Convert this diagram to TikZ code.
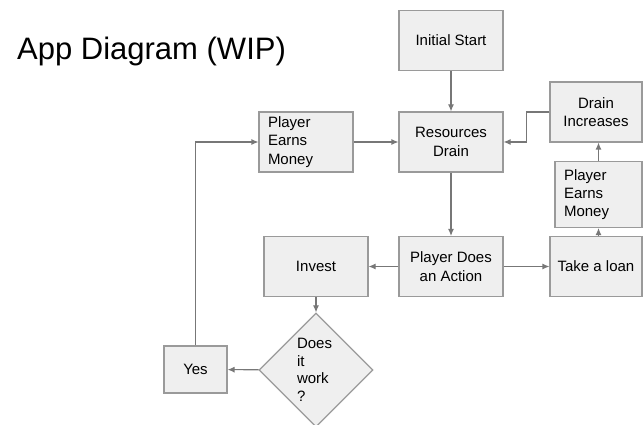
\documentclass[tikz,border=0pt]{standalone}
\usepackage{fontspec}
\setmainfont{Liberation Sans}
\usetikzlibrary{arrows.meta,shapes.geometric}
\definecolor{boxfill}{HTML}{EFEFEF}
\definecolor{boxline}{HTML}{9A9A9A}
\definecolor{linkline}{HTML}{777777}
\tikzset{
  box/.style={draw=boxline, fill=boxfill, line width=1.1pt, align=center,
    minimum width=104pt, minimum height=60pt, inner sep=4pt,
    font=\fontsize{15}{18.3}\selectfont},
  leftbox/.style={box, align=left, text width=76pt, inner xsep=9pt, inner ysep=2pt},
  decision/.style={diamond, draw=boxline, fill=boxfill, line width=1.1pt,
    aspect=1, minimum width=114pt, minimum height=114pt, inner sep=0pt,
    text width=38pt, align=left, font=\fontsize{15}{17.5}\selectfont},
  arrow/.style={-{Latex[length=7pt,width=6pt]}, draw=linkline, line width=1.1pt},
}
\begin{document}
\begin{tikzpicture}[x=1pt, y=-1pt]
    \useasboundingbox (0,0) rectangle (643,425);

    % Title
    \node[anchor=base west, inner sep=0pt, font=\fontsize{31}{36}\selectfont] (title) at (17,60) {App Diagram (WIP)};

    % Main column
    \node[box] (start) at (451,40.5) {Initial Start};
    \node[box] (drain) at (451,142) {Resources\\Drain};
    \node[box] (action) at (451,266.5) {Player Does\\an Action};

    % Left branch
    \node[leftbox, minimum width=94pt] (earnleft) at (306,142) {Player\\Earns\\Money};
    \node[box] (invest) at (316,266.5) {Invest};
    \node[decision] (works) at (316,370) {Does\\it\\work\\?};
    \node[box, minimum width=63pt, minimum height=47pt] (yes) at (195.5,369.5) {Yes};

    % Right branch
    \node[box, minimum width=92pt] (loan) at (596,266.5) {Take a loan};
    \node[leftbox, minimum width=87pt, minimum height=66pt, text width=69pt] (earnright) at (598.5,194.5) {Player\\Earns\\Money};
    \node[box, minimum width=92pt] (increase) at (596,112) {Drain\\Increases};

    % Connectors
    \draw[arrow] (start) -- (drain);
    \draw[arrow] (drain) -- (action);
    \draw[arrow] (action) -- (invest);
    \draw[arrow] (action) -- (loan);
    \draw[arrow] (invest) -- (works);
    \draw[arrow] (works) -- (yes);
    \draw[arrow] (yes.north) |- (earnleft.west);
    \draw[arrow] (earnleft) -- (drain);
    \draw[arrow] (loan.north -| earnright.south) -- (earnright.south);
    \draw[arrow] (earnright.north) -- (earnright.north |- increase.south);
    \draw[arrow] (increase.west) -- ++(-23,0) |- (drain.east);
\end{tikzpicture}
\end{document}
